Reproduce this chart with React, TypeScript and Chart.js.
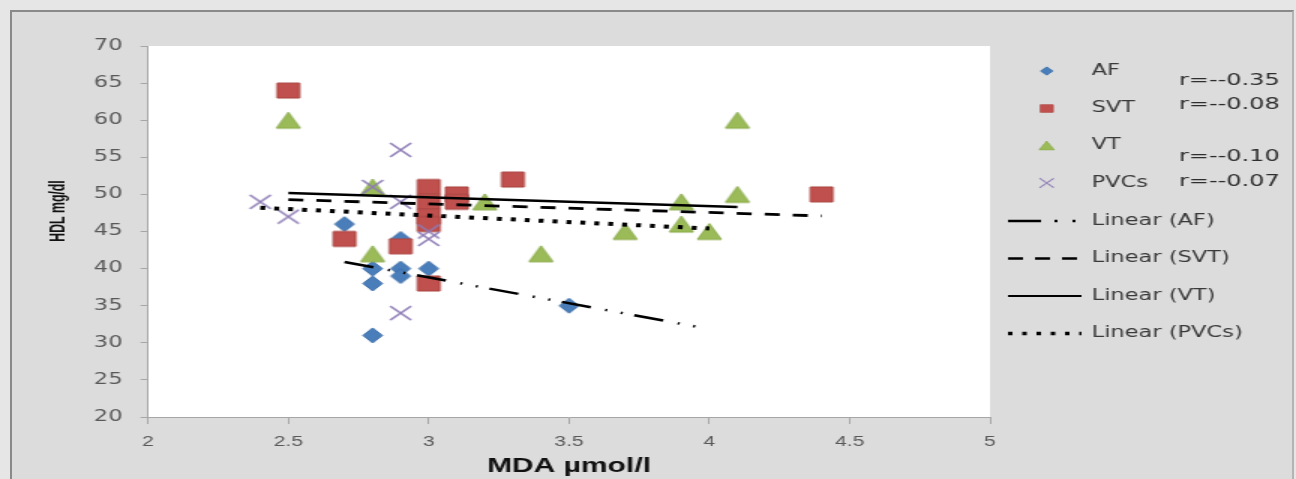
import React, { useEffect, useRef } from "react";
import { Chart, registerables } from "chart.js";

Chart.register(...registerables);

// ---------------- data ----------------
const xTickValues = [2, 2.5, 3, 3.5, 4, 4.5, 5];
const xTickLabels = ["2", "2.5", "3", "3.5", "4", "4.5", "5"];
const yTickValues = [20, 25, 30, 35, 40, 45, 50, 55, 60, 65, 70];
const yTickLabels = ["20", "25", "30", "35", "40", "45", "50", "55", "60", "65", "70"];

const xTitle = "MDA µmol/l";
const yTitle = "HDL mg/dl";

const seriesNames = ["AF", "SVT", "VT", "PVCs"];
const trendNames = ["Linear (AF)", "Linear (SVT)", "Linear (VT)", "Linear (PVCs)"];
const rLabels = ["r=--0.35", "r=--0.08", "r=--0.10", "r=--0.07"];

const afX = [2.7, 2.8, 2.8, 2.8, 2.9, 2.9, 2.9, 3.0, 3.5];
const afY = [46, 40, 38, 31, 44, 40, 39, 40, 35];

const svtX = [2.5, 2.7, 2.9, 3.0, 3.0, 3.0, 3.0, 3.0, 3.1, 3.1, 3.3, 4.4];
const svtY = [64, 44, 43, 51, 49, 47, 46, 38, 50, 49, 52, 50];

const vtX = [2.5, 2.8, 2.8, 3.2, 3.4, 3.7, 3.9, 3.9, 4.0, 4.1, 4.1];
const vtY = [60, 51, 42, 49, 42, 45, 49, 46, 45, 60, 50];

const pvcX = [2.4, 2.5, 2.8, 2.9, 2.9, 2.9, 3.0, 3.0];
const pvcY = [49, 47, 51, 56, 49, 34, 45, 44];

const afTrendX = [2.7, 3.95];
const afTrendY = [40.9, 32.2];
const svtTrendX = [2.5, 4.4];
const svtTrendY = [49.3, 47.1];
const vtTrendX = [2.5, 4.1];
const vtTrendY = [50.2, 48.3];
const pvcTrendX = [2.4, 4.0];
const pvcTrendY = [48.2, 45.4];

// ---------------- styling ----------------
const STRETCH = 1.5; // the reference picture is stretched horizontally
const W = 864;
const H = 479;

const BLUE = "#4a7ebb";
const RED = "#c0504d";
const GREEN = "#9bbb59";
const PURPLE = "#8d7bb5";

const AF_DASH = [20, 10, 1.4, 9.3, 1.4, 8];
const SVT_DASH = [10, 8.7];
const PVC_DASH = [3.3, 6];

type Kind = "diamond" | "square" | "triangle" | "cross";

function makeMarker(kind: Kind, w: number, h: number, fill: string, stroke: string) {
  const pad = 2;
  const c = document.createElement("canvas");
  c.width = w + pad * 2;
  c.height = h + pad * 2;
  const g = c.getContext("2d")!;
  g.translate(pad, pad);
  g.beginPath();
  if (kind === "diamond") {
    g.moveTo(w / 2, 0);
    g.lineTo(w, h / 2);
    g.lineTo(w / 2, h);
    g.lineTo(0, h / 2);
    g.closePath();
  } else if (kind === "square") {
    g.rect(0, 0, w, h);
  } else if (kind === "triangle") {
    g.moveTo(w / 2, 0);
    g.lineTo(w, h);
    g.lineTo(0, h);
    g.closePath();
  } else {
    g.moveTo(0, 0);
    g.lineTo(w, h);
    g.moveTo(w, 0);
    g.lineTo(0, h);
  }
  if (kind !== "cross") {
    g.fillStyle = fill;
    g.fill();
    g.lineWidth = 1;
    g.strokeStyle = stroke;
    g.stroke();
  } else {
    g.lineWidth = 1.6;
    g.strokeStyle = stroke;
    g.stroke();
  }
  return c;
}

function pts(xs: number[], ys: number[]) {
  return xs.map((x, i) => ({ x, y: ys[i] }));
}

export default function App() {
  const ref = useRef<HTMLCanvasElement | null>(null);

  useEffect(() => {
    if (!ref.current) return;

    const mDiamond = makeMarker("diamond", 13, 15, BLUE, "#3d6fa8");
    const mSquare = makeMarker("square", 15, 15, RED, "#a94441");
    const mTriangle = makeMarker("triangle", 16, 16, GREEN, "#8aab4b");
    const mCross = makeMarker("cross", 14, 14, PURPLE, PURPLE);
    const legendMarkers = [
      { img: mDiamond, w: 11, h: 11 },
      { img: mSquare, w: 11, h: 10 },
      { img: mTriangle, w: 13, h: 11 },
      { img: mCross, w: 12, h: 12 },
    ];
    const legendLines = [
      { dash: [22, 9, 2, 10, 2, 20], width: 2.5 },
      { dash: [10, 8], width: 2.5 },
      { dash: [], width: 2 },
      { dash: [3, 6.5], width: 3.5 },
    ];

    const decor = {
      id: "decor",
      beforeDraw(chart: any) {
        const { ctx, chartArea: a } = chart;
        ctx.save();
        ctx.fillStyle = "#ffffff";
        ctx.fillRect(a.left, a.top, a.right - a.left, a.bottom - a.top);
        ctx.restore();
      },
      afterDraw(chart: any) {
        const ctx = chart.ctx as CanvasRenderingContext2D;
        // y axis title (condensed along its direction)
        ctx.save();
        ctx.translate(38.7, 211);
        ctx.rotate(-Math.PI / 2);
        ctx.scale(0.82, 1);
        ctx.font = 'bold 15px "Liberation Sans", Arial, sans-serif';
        ctx.fillStyle = "#111";
        ctx.textAlign = "center";
        ctx.textBaseline = "middle";
        ctx.fillText(yTitle, 0, 0);
        ctx.restore();

        // legend
        const rows = [71, 108.5, 145.5, 183, 221, 258.5, 296, 333.5];
        const iconX = 697.8;
        const textX = 727.8;
        ctx.save();
        ctx.font = '15px "DejaVu Sans", Verdana, sans-serif';
        ctx.fillStyle = "#3a3a3a";
        ctx.textAlign = "left";
        ctx.textBaseline = "middle";
        seriesNames.forEach((name, i) => {
          const m = legendMarkers[i];
          ctx.drawImage(m.img, iconX - m.w / 2, rows[i] - m.h / 2, m.w, m.h);
          ctx.fillText(name, textX, rows[i]);
        });
        trendNames.forEach((name, i) => {
          const y = rows[4 + i];
          const l = legendLines[i];
          ctx.save();
          ctx.beginPath();
          ctx.setLineDash(l.dash);
          ctx.lineWidth = l.width;
          ctx.strokeStyle = "#000";
          ctx.lineCap = "butt";
          ctx.moveTo(672, y);
          ctx.lineTo(721, y);
          ctx.stroke();
          ctx.restore();
          ctx.fillText(name, textX, y);
        });
        const rY = [81, 105, 156.7, 181.7];
        ctx.font = '16px "DejaVu Sans", Verdana, sans-serif';
        ctx.fillStyle = "#2e2e2e";
        rLabels.forEach((t, i) => ctx.fillText(t, 786, rY[i]));
        ctx.restore();
      },
    };

    const scatterBase = {
      pointRadius: 7,
      pointHoverRadius: 7,
      showLine: false,
    };
    const trendBase = {
      showLine: true,
      pointRadius: 0,
      pointHoverRadius: 0,
      borderColor: "#000",
      backgroundColor: "#000",
      fill: false,
      tension: 0,
      borderCapStyle: "butt",
      order: 0,
    };

    const chart = new Chart(ref.current, {
      type: "scatter",
      data: {
        datasets: [
          { ...trendBase, label: trendNames[0], data: pts(afTrendX, afTrendY), borderWidth: 2.5, borderDash: AF_DASH },
          { ...trendBase, label: trendNames[1], data: pts(svtTrendX, svtTrendY), borderWidth: 2.8, borderDash: SVT_DASH },
          { ...trendBase, label: trendNames[2], data: pts(vtTrendX, vtTrendY), borderWidth: 2.5, borderDash: [] },
          { ...trendBase, label: trendNames[3], data: pts(pvcTrendX, pvcTrendY), borderWidth: 4, borderDash: PVC_DASH },
          { ...scatterBase, label: seriesNames[3], data: pts(pvcX, pvcY), pointStyle: mCross, order: 1 },
          { ...scatterBase, label: seriesNames[2], data: pts(vtX, vtY), pointStyle: mTriangle, order: 2 },
          { ...scatterBase, label: seriesNames[1], data: pts(svtX, svtY), pointStyle: mSquare, order: 3 },
          { ...scatterBase, label: seriesNames[0], data: pts(afX, afY), pointStyle: mDiamond, order: 4 },
        ] as any,
      },
      options: {
        animation: false,
        responsive: false,
        devicePixelRatio: 1,
        events: [],
        layout: { padding: { left: 0, right: 204, top: 46, bottom: 0 } },
        plugins: {
          legend: { display: false },
          tooltip: { enabled: false },
        },
        scales: {
          x: {
            type: "linear",
            min: 2,
            max: 5,
            afterBuildTicks: (s: any) => {
              s.ticks = xTickValues.map((v) => ({ value: v }));
            },
            afterFit: (s: any) => {
              s.height = 62;
            },
            ticks: {
              callback: (_v: any, i: number) => xTickLabels[i],
              color: "#595959",
              font: { family: '"Liberation Sans", Arial, sans-serif', size: 14 },
              padding: 10,
              maxRotation: 0,
            },
            grid: { drawOnChartArea: false, drawTicks: true, tickLength: 7, color: "#a6a6a6" },
            border: { color: "#a6a6a6", width: 1 },
            title: {
              display: true,
              text: xTitle,
              color: "#111",
              font: { family: '"Liberation Sans", Arial, sans-serif', size: 20, weight: "bold" },
              padding: { top: 0, bottom: 1 },
            },
          },
          y: {
            type: "linear",
            min: 20,
            max: 70,
            afterBuildTicks: (s: any) => {
              s.ticks = yTickValues.map((v) => ({ value: v }));
            },
            afterFit: (s: any) => {
              s.width = 98.7;
            },
            ticks: {
              callback: (_v: any, i: number) => yTickLabels[i],
              color: "#595959",
              font: { family: '"DejaVu Sans", Verdana, sans-serif', size: 15 },
              padding: 12,
            },
            grid: { drawOnChartArea: false, drawTicks: true, tickLength: 5, color: "#a6a6a6" },
            border: { color: "#a6a6a6", width: 1 },
          },
        },
      } as any,
      plugins: [decor],
    });

    return () => chart.destroy();
  }, []);

  return (
    <div
      style={{
        position: "fixed",
        left: 0,
        top: 0,
        width: 1296,
        height: 479,
        background: "#e6e6e6",
        overflow: "hidden",
      }}
    >
      <div
        style={{
          position: "absolute",
          left: 10,
          top: 10,
          right: 2,
          bottom: -5,
          background: "#dcdcdc",
          borderLeft: "2px solid #8a8a8a",
          borderTop: "2px solid #8a8a8a",
          borderRight: "2px solid #b4b4b4",
        }}
      />
      <div
        style={{
          position: "absolute",
          left: 0,
          top: 0,
          width: W,
          height: H,
          transform: `scaleX(${STRETCH})`,
          transformOrigin: "0 0",
        }}
      >
        <canvas ref={ref} width={W} height={H} style={{ display: "block", width: W, height: H }} />
      </div>
    </div>
  );
}
